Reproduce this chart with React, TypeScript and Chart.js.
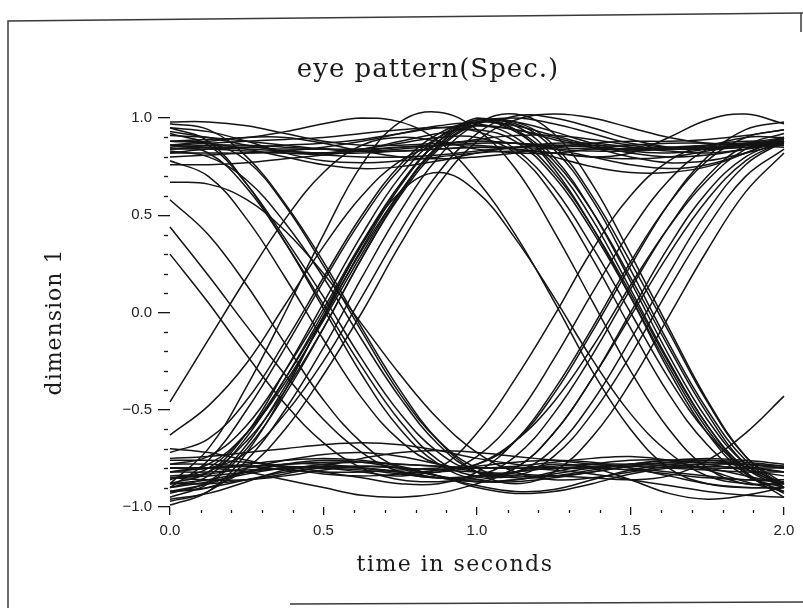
import React, { useEffect, useRef } from "react";
import { Chart, registerables } from "chart.js";

Chart.register(...registerables);

// Sample instants (seconds) shared by every trace of the eye diagram
const tSeconds = [0, 0.125, 0.25, 0.375, 0.5, 0.625, 0.75, 0.875, 1, 1.125, 1.25, 1.375, 1.5, 1.625, 1.75, 1.875, 2];

// Symbol pattern +,+,+ : traces staying in the upper rail
const upperBand = [
  [0.85, 0.86, 0.86, 0.85, 0.84, 0.83, 0.83, 0.84, 0.85, 0.85, 0.84, 0.83, 0.83, 0.84, 0.86, 0.87, 0.88],
  [0.95, 0.93, 0.88, 0.82, 0.78, 0.77, 0.78, 0.8, 0.82, 0.83, 0.82, 0.8, 0.79, 0.8, 0.83, 0.86, 0.88],
  [0.82, 0.84, 0.85, 0.86, 0.87, 0.89, 0.92, 0.95, 0.96, 0.94, 0.9, 0.85, 0.8, 0.77, 0.78, 0.82, 0.87],
  [0.88, 0.87, 0.84, 0.8, 0.76, 0.74, 0.75, 0.78, 0.82, 0.85, 0.87, 0.87, 0.85, 0.83, 0.82, 0.84, 0.87],
  [0.98, 0.98, 0.96, 0.92, 0.88, 0.86, 0.86, 0.87, 0.88, 0.87, 0.84, 0.8, 0.76, 0.74, 0.76, 0.82, 0.9],
  [0.8, 0.81, 0.82, 0.82, 0.81, 0.8, 0.8, 0.81, 0.83, 0.85, 0.86, 0.86, 0.85, 0.84, 0.84, 0.85, 0.86],
  [0.91, 0.9, 0.88, 0.86, 0.84, 0.83, 0.84, 0.86, 0.89, 0.91, 0.91, 0.89, 0.86, 0.84, 0.84, 0.86, 0.89],
  [0.86, 0.88, 0.9, 0.9, 0.87, 0.83, 0.8, 0.79, 0.8, 0.82, 0.85, 0.87, 0.88, 0.88, 0.89, 0.91, 0.94],
  [0.76, 0.76, 0.77, 0.79, 0.81, 0.83, 0.85, 0.86, 0.86, 0.84, 0.8, 0.75, 0.72, 0.72, 0.75, 0.82, 0.9],
  [0.84, 0.85, 0.85, 0.84, 0.84, 0.84, 0.85, 0.86, 0.87, 0.87, 0.86, 0.85, 0.84, 0.84, 0.85, 0.86, 0.86],
  [0.86, 0.85, 0.84, 0.83, 0.82, 0.82, 0.83, 0.84, 0.85, 0.84, 0.82, 0.8, 0.82, 0.9, 0.99, 1.02, 0.97],
];

// Symbol pattern -,-,- : traces staying in the lower rail
const lowerBand = [
  [-0.8, -0.8, -0.79, -0.78, -0.77, -0.77, -0.78, -0.79, -0.8, -0.8, -0.79, -0.78, -0.78, -0.79, -0.8, -0.8, -0.8],
  [-0.92, -0.9, -0.86, -0.82, -0.8, -0.8, -0.82, -0.85, -0.87, -0.86, -0.83, -0.8, -0.78, -0.78, -0.8, -0.84, -0.88],
  [-0.75, -0.74, -0.72, -0.7, -0.68, -0.67, -0.68, -0.71, -0.75, -0.78, -0.8, -0.8, -0.78, -0.76, -0.75, -0.76, -0.78],
  [-0.85, -0.86, -0.86, -0.84, -0.81, -0.79, -0.8, -0.84, -0.9, -0.93, -0.92, -0.88, -0.83, -0.8, -0.79, -0.8, -0.82],
  [-0.96, -0.93, -0.87, -0.81, -0.78, -0.77, -0.78, -0.79, -0.8, -0.79, -0.77, -0.75, -0.74, -0.76, -0.81, -0.87, -0.92],
  [-0.7, -0.72, -0.76, -0.8, -0.83, -0.84, -0.83, -0.81, -0.79, -0.77, -0.76, -0.77, -0.8, -0.84, -0.88, -0.9, -0.9],
  [-0.82, -0.8, -0.78, -0.76, -0.75, -0.76, -0.79, -0.84, -0.89, -0.92, -0.91, -0.86, -0.81, -0.78, -0.77, -0.78, -0.8],
  [-0.88, -0.88, -0.86, -0.83, -0.79, -0.75, -0.72, -0.71, -0.72, -0.74, -0.76, -0.78, -0.8, -0.82, -0.84, -0.86, -0.87],
  [-0.78, -0.78, -0.79, -0.81, -0.82, -0.82, -0.81, -0.8, -0.8, -0.8, -0.81, -0.83, -0.86, -0.89, -0.92, -0.94, -0.95],
  [-0.9, -0.87, -0.83, -0.8, -0.79, -0.8, -0.82, -0.85, -0.87, -0.87, -0.85, -0.82, -0.79, -0.77, -0.76, -0.77, -0.79],
  [-0.8, -0.8, -0.82, -0.86, -0.9, -0.94, -0.95, -0.93, -0.88, -0.82, -0.78, -0.8, -0.86, -0.93, -0.96, -0.94, -0.9],
  [-0.84, -0.83, -0.8, -0.76, -0.73, -0.72, -0.74, -0.78, -0.82, -0.84, -0.84, -0.82, -0.79, -0.77, -0.77, -0.79, -0.82],
];

// Symbol pattern -,+,+ : rising edge, then holding high
const riseHold = [
  [-0.95, -0.88, -0.7, -0.42, -0.08, 0.28, 0.6, 0.84, 0.97, 1.0, 0.97, 0.92, 0.87, 0.85, 0.85, 0.86, 0.87],
  [-0.8, -0.8, -0.72, -0.52, -0.25, 0.08, 0.42, 0.72, 0.92, 1.01, 1.0, 0.95, 0.89, 0.85, 0.84, 0.85, 0.86],
  [-0.88, -0.82, -0.62, -0.3, 0.05, 0.4, 0.7, 0.9, 0.99, 0.98, 0.93, 0.87, 0.83, 0.82, 0.84, 0.87, 0.9],
  [-0.72, -0.65, -0.45, -0.15, 0.18, 0.5, 0.76, 0.92, 0.98, 0.96, 0.91, 0.86, 0.82, 0.8, 0.81, 0.84, 0.88],
  [-0.92, -0.9, -0.8, -0.6, -0.32, 0.0, 0.35, 0.66, 0.88, 0.99, 1.02, 1.0, 0.95, 0.9, 0.87, 0.86, 0.86],
  [-0.46, -0.14, 0.18, 0.48, 0.72, 0.86, 0.9, 0.88, 0.84, 0.82, 0.82, 0.84, 0.86, 0.87, 0.87, 0.86, 0.85],
  [-0.63, -0.48, -0.26, 0.04, 0.34, 0.6, 0.78, 0.86, 0.88, 0.87, 0.85, 0.84, 0.84, 0.85, 0.86, 0.87, 0.87],
  [-0.9, -0.76, -0.5, -0.18, 0.16, 0.48, 0.74, 0.9, 0.96, 0.94, 0.89, 0.85, 0.84, 0.84, 0.85, 0.86, 0.87],
];

// Symbol pattern -,+,- : isolated high pulse
const riseFall = [
  [-0.93, -0.87, -0.68, -0.38, -0.03, 0.33, 0.65, 0.88, 0.99, 0.96, 0.8, 0.52, 0.16, -0.22, -0.55, -0.78, -0.88],
  [-0.85, -0.82, -0.66, -0.4, -0.08, 0.28, 0.61, 0.86, 1.0, 0.94, 0.74, 0.44, 0.08, -0.3, -0.62, -0.83, -0.92],
  [-0.97, -0.92, -0.76, -0.5, -0.18, 0.18, 0.52, 0.8, 0.97, 1.02, 0.92, 0.66, 0.3, -0.08, -0.45, -0.74, -0.9],
  [-0.78, -0.74, -0.58, -0.3, 0.02, 0.36, 0.66, 0.88, 0.98, 0.93, 0.76, 0.48, 0.12, -0.25, -0.58, -0.82, -0.95],
  [-0.9, -0.84, -0.64, -0.34, 0.0, 0.35, 0.66, 0.88, 0.98, 0.94, 0.78, 0.52, 0.18, -0.18, -0.52, -0.78, -0.9],
  [-0.99, -0.92, -0.72, -0.4, -0.02, 0.35, 0.62, 0.72, 0.62, 0.38, 0.08, -0.24, -0.52, -0.72, -0.84, -0.88, -0.88],
  [-0.82, -0.78, -0.62, -0.36, -0.04, 0.3, 0.62, 0.86, 0.98, 0.98, 0.86, 0.6, 0.26, -0.1, -0.46, -0.74, -0.88],
  [-0.88, -0.7, -0.38, 0.0, 0.4, 0.76, 0.98, 1.03, 0.94, 0.74, 0.42, 0.06, -0.3, -0.6, -0.8, -0.88, -0.88],
  [-0.86, -0.8, -0.62, -0.34, -0.02, 0.32, 0.62, 0.85, 0.97, 0.97, 0.84, 0.58, 0.22, -0.16, -0.5, -0.76, -0.9],
];

// Symbol pattern +,-,- : falling edge, then holding low
const fallHold = [
  [0.44, 0.19, -0.07, -0.32, -0.55, -0.72, -0.82, -0.85, -0.84, -0.82, -0.8, -0.79, -0.79, -0.8, -0.81, -0.82, -0.82],
  [0.3, 0.05, -0.22, -0.47, -0.67, -0.8, -0.86, -0.87, -0.85, -0.82, -0.8, -0.8, -0.81, -0.83, -0.85, -0.86, -0.86],
  [0.67, 0.66, 0.58, 0.42, 0.2, -0.06, -0.32, -0.55, -0.72, -0.82, -0.86, -0.85, -0.82, -0.79, -0.78, -0.78, -0.79],
  [0.88, 0.87, 0.78, 0.55, 0.24, -0.1, -0.42, -0.66, -0.8, -0.85, -0.84, -0.81, -0.78, -0.76, -0.76, -0.78, -0.8],
  [0.95, 0.88, 0.66, 0.36, 0.02, -0.32, -0.6, -0.78, -0.86, -0.86, -0.82, -0.78, -0.76, -0.76, -0.78, -0.81, -0.84],
];

// Symbol pattern +,-,+ : isolated low pulse
const fallRise = [
  [0.58, 0.4, 0.14, -0.16, -0.45, -0.67, -0.8, -0.82, -0.74, -0.54, -0.24, 0.1, 0.42, 0.68, 0.84, 0.9, 0.9],
  [0.86, 0.82, 0.64, 0.36, 0.04, -0.28, -0.56, -0.76, -0.84, -0.8, -0.62, -0.34, 0.0, 0.34, 0.62, 0.8, 0.88],
  [0.92, 0.86, 0.66, 0.38, 0.08, -0.24, -0.52, -0.72, -0.82, -0.82, -0.7, -0.46, -0.14, 0.2, 0.52, 0.76, 0.88],
  [0.83, 0.8, 0.68, 0.46, 0.18, -0.14, -0.44, -0.68, -0.82, -0.84, -0.74, -0.52, -0.22, 0.12, 0.44, 0.7, 0.84],
  [0.78, 0.7, 0.48, 0.18, -0.14, -0.44, -0.66, -0.78, -0.78, -0.66, -0.42, -0.1, 0.24, 0.56, 0.8, 0.94, 0.98],
  [0.97, 0.94, 0.8, 0.56, 0.26, -0.08, -0.4, -0.66, -0.82, -0.88, -0.82, -0.64, -0.36, -0.02, 0.32, 0.62, 0.82],
];

// Symbol pattern +,+,- : holding high, then falling edge
const holdFall = [
  [0.86, 0.87, 0.88, 0.89, 0.9, 0.92, 0.94, 0.95, 0.93, 0.84, 0.64, 0.34, 0.0, -0.34, -0.62, -0.8, -0.88],
  [0.82, 0.82, 0.82, 0.83, 0.85, 0.88, 0.92, 0.96, 0.97, 0.9, 0.72, 0.44, 0.1, -0.26, -0.58, -0.8, -0.9],
  [0.93, 0.9, 0.86, 0.83, 0.82, 0.84, 0.88, 0.92, 0.94, 0.88, 0.7, 0.42, 0.08, -0.28, -0.6, -0.82, -0.93],
  [0.84, 0.84, 0.83, 0.82, 0.82, 0.84, 0.87, 0.9, 0.9, 0.82, 0.6, 0.28, -0.08, -0.42, -0.68, -0.84, -0.9],
  [0.88, 0.89, 0.9, 0.93, 0.97, 1.0, 0.98, 0.88, 0.68, 0.4, 0.06, -0.3, -0.6, -0.8, -0.88, -0.9, -0.9],
];

// Symbol pattern -,-,+ : holding low, then rising edge
const holdRise = [
  [-0.8, -0.8, -0.79, -0.79, -0.8, -0.81, -0.83, -0.85, -0.84, -0.74, -0.52, -0.22, 0.12, 0.44, 0.7, 0.86, 0.92],
  [-0.88, -0.86, -0.82, -0.78, -0.76, -0.77, -0.8, -0.84, -0.86, -0.8, -0.62, -0.34, -0.02, 0.3, 0.58, 0.78, 0.88],
  [-0.76, -0.76, -0.77, -0.79, -0.82, -0.85, -0.88, -0.88, -0.82, -0.66, -0.4, -0.08, 0.26, 0.56, 0.78, 0.9, 0.94],
  [-0.92, -0.88, -0.82, -0.78, -0.78, -0.8, -0.82, -0.82, -0.78, -0.66, -0.46, -0.18, 0.14, 0.44, 0.68, 0.84, 0.9],
  [-0.85, -0.84, -0.82, -0.8, -0.8, -0.82, -0.84, -0.8, -0.62, -0.34, -0.02, 0.32, 0.6, 0.78, 0.86, 0.88, 0.88],
  [-0.82, -0.82, -0.81, -0.8, -0.79, -0.79, -0.8, -0.81, -0.82, -0.83, -0.84, -0.85, -0.86, -0.84, -0.76, -0.62, -0.43],
];

const allTraces = [
  ...upperBand,
  ...lowerBand,
  ...riseHold,
  ...riseFall,
  ...fallHold,
  ...fallRise,
  ...holdFall,
  ...holdRise,
];

// Axis ranges and labels
const xRange = [0, 2];
const yRange = [-1, 1];
const majorStep = 0.5;
const minorStep = 0.1;
const titleText = "eye pattern(Spec.)";
const xTitleText = "time in seconds";
const yTitleText = "dimension 1";

const INK = "#141414";

const fmt = (v: number) => {
  const s = Math.abs(v).toFixed(1);
  return v < -1e-9 ? "\u2212" + s : s;
};

// Minor tick marks, titles and the surrounding sheet border
const decorPlugin = {
  id: "decor",
  afterDraw(chart: any) {
    const { ctx, chartArea, scales } = chart;
    const xs = scales.x;
    const ys = scales.y;
    ctx.save();
    ctx.strokeStyle = INK;
    ctx.lineWidth = 1.3;

    // minor ticks on the vertical axis
    for (let v = yRange[0]; v <= yRange[1] + 1e-9; v += minorStep) {
      const r = Math.round(v * 10) / 10;
      if (Math.abs(r / majorStep - Math.round(r / majorStep)) < 1e-6) continue;
      const py = Math.round(ys.getPixelForValue(r)) + 0.5;
      ctx.beginPath();
      ctx.moveTo(chartArea.left - 6, py);
      ctx.lineTo(chartArea.left - 2, py);
      ctx.stroke();
    }
    // minor ticks on the horizontal axis
    for (let v = xRange[0]; v <= xRange[1] + 1e-9; v += minorStep) {
      const r = Math.round(v * 10) / 10;
      if (Math.abs(r / majorStep - Math.round(r / majorStep)) < 1e-6) continue;
      const px = Math.round(xs.getPixelForValue(r)) + 0.5;
      ctx.beginPath();
      ctx.moveTo(px, chartArea.bottom + 3);
      ctx.lineTo(px, chartArea.bottom + 6);
      ctx.stroke();
    }

    ctx.fillStyle = "#1a1a1a";
    ctx.textBaseline = "middle";
    ctx.textAlign = "center";
    ctx.letterSpacing = "1px";
    ctx.font = '26px "DejaVu Serif"';
    ctx.fillText(titleText, 428, 70);
    ctx.letterSpacing = "1.5px";
    ctx.font = '22px "DejaVu Serif"';
    ctx.fillText(xTitleText, 455, 565);
    ctx.letterSpacing = "1px";
    ctx.save();
    ctx.translate(55, 322);
    ctx.rotate(-Math.PI / 2);
    ctx.fillText(yTitleText, 0, 0);
    ctx.restore();
    ctx.letterSpacing = "0px";

    // sheet border
    ctx.strokeStyle = "#3a3a3a";
    ctx.lineWidth = 1.5;
    ctx.beginPath();
    ctx.moveTo(8, 608);
    ctx.lineTo(8, 21);
    ctx.lineTo(803, 13);
    ctx.stroke();
    ctx.beginPath();
    ctx.moveTo(801, 13);
    ctx.lineTo(801, 32);
    ctx.stroke();
    ctx.beginPath();
    ctx.moveTo(290, 604);
    ctx.lineTo(803, 602);
    ctx.stroke();
    ctx.restore();
  },
};

export default function App() {
  const canvasRef = useRef<HTMLCanvasElement | null>(null);

  useEffect(() => {
    if (!canvasRef.current) return;
    const datasets = allTraces.map((vals, i) => ({
      label: "trace " + (i + 1),
      data: tSeconds.map((t, k) => ({ x: t, y: vals[k] })),
      borderColor: INK,
      borderWidth: 1.5,
      pointRadius: 0,
      tension: 0.4,
      fill: false,
      clip: false as any,
    }));

    const tickFont = { family: '"Liberation Sans"', size: 15 };

    const chart = new Chart(canvasRef.current, {
      type: "line",
      data: { datasets },
      plugins: [decorPlugin],
      options: {
        animation: false,
        responsive: false,
        devicePixelRatio: 1,
        layout: { padding: { left: 110, right: 19, top: 118, bottom: 0 } },
        plugins: {
          legend: { display: false },
          tooltip: { enabled: false },
          title: { display: false },
        },
        scales: {
          x: {
            type: "linear",
            min: xRange[0],
            max: xRange[1],
            afterFit: (s: any) => {
              s.height = 101;
            },
            border: { display: false },
            grid: {
              display: true,
              drawOnChartArea: false,
              drawTicks: true,
              tickLength: 8,
              color: INK,
              lineWidth: 1.3,
            },
            ticks: {
              stepSize: majorStep,
              padding: 7,
              color: "#222",
              font: tickFont,
              maxRotation: 0,
              callback: (v: any) => fmt(Number(v)),
            },
          },
          y: {
            type: "linear",
            min: yRange[0],
            max: yRange[1],
            afterFit: (s: any) => {
              s.width = 60;
            },
            border: { display: false },
            grid: {
              display: true,
              drawOnChartArea: false,
              drawTicks: true,
              tickLength: 12,
              color: INK,
              lineWidth: 1.3,
            },
            ticks: {
              stepSize: majorStep,
              padding: 6,
              color: "#222",
              font: tickFont,
              callback: (v: any) => fmt(Number(v)),
            },
          },
        },
      },
    });
    return () => chart.destroy();
  }, []);

  return (
    <div style={{ position: "fixed", left: 0, top: 0, width: 803, height: 608, background: "#fff" }}>
      <canvas ref={canvasRef} width={803} height={608} style={{ display: "block" }} />
    </div>
  );
}
